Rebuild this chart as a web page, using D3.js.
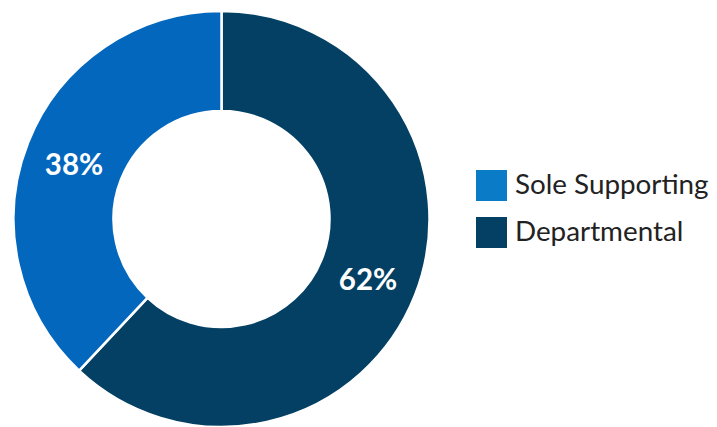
<!DOCTYPE html>
<html><head><meta charset="utf-8">
<script src="https://cdn.jsdelivr.net/npm/d3@7"></script>
<style>html,body{margin:0;padding:0;background:#fff;}svg{display:block;}</style>
</head><body>
<svg id="chart" width="717" height="427"></svg>
<script>
const categories = ["Departmental", "Sole Supporting"];
const values = [62, 38];
const labels = ["62%", "38%"];
const arcColors = ["#034063", "#0367BE"];
const legendOrder = ["Sole Supporting", "Departmental"];
const legendColors = ["#0A7BC6", "#034063"];

const svg = d3.select("#chart");
const cx = 221.5, cy = 219, rOuter = 208, rInner = 108;
const g = svg.append("g").attr("transform", `translate(${cx},${cy})`);
const pie = d3.pie().sort(null).value(d => d)(values);
const arc = d3.arc().innerRadius(rInner).outerRadius(rOuter);
g.selectAll("path").data(pie).join("path")
  .attr("d", arc)
  .attr("fill", (d, i) => arcColors[i])
  .attr("stroke", "#fff").attr("stroke-width", 2.5);

const labelPos = [[368 - cx, 278 - cy], [74 - cx, 163 - cy]];
g.selectAll("text.lbl").data(pie).join("text")
  .attr("class", "lbl")
  .attr("x", (d, i) => labelPos[i][0])
  .attr("y", (d, i) => labelPos[i][1])
  .attr("text-anchor", "middle").attr("dominant-baseline", "central")
  .attr("font-family", "Lato, 'Open Sans', sans-serif").attr("font-weight", "bold")
  .attr("font-size", 29.5).attr("fill", "#fff")
  .text((d, i) => labels[i]);

const leg = svg.append("g").attr("transform", "translate(476,170)");
const items = leg.selectAll("g").data(legendOrder).join("g")
  .attr("transform", (d, i) => `translate(0,${i * 47})`);
items.append("rect").attr("width", 31).attr("height", 31).attr("fill", (d, i) => legendColors[i]);
items.append("text").attr("x", 39).attr("y", 23.5)
  .attr("font-family", "Lato, 'Open Sans', sans-serif").attr("font-size", 27.8)
  .attr("fill", "#222").text(d => d);
</script>
</body></html>
